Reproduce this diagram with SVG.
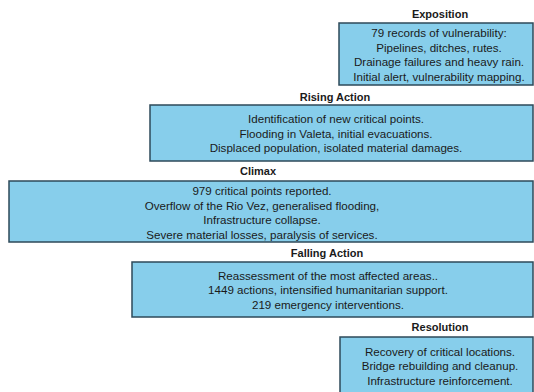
<svg xmlns="http://www.w3.org/2000/svg" width="534" height="392" viewBox="0 0 534 392">
<style>
.box{fill:#87CEEB;stroke:#2E4A5A;stroke-width:1.5}
.t{font-family:"Liberation Sans",Arial,sans-serif;font-size:11.6px;fill:#1a1a1a;text-anchor:middle}
.h{font-family:"Liberation Sans",Arial,sans-serif;font-size:11px;font-weight:bold;fill:#1a1a1a;text-anchor:middle}
</style>
<rect width="534" height="392" fill="#ffffff"/>
<g id="connectors"/>
<g id="exposition">
<text class="h" x="440" y="17.5">Exposition</text>
<rect class="box" x="339" y="23" width="194" height="62"/>
<text class="t" x="439" y="37">79 records of vulnerability:</text>
<text class="t" x="439" y="51.5">Pipelines, ditches, rutes.</text>
<text class="t" x="439" y="66">Drainage failures and heavy rain.</text>
<text class="t" x="439" y="80.5">Initial alert, vulnerability mapping.</text>
</g>
<g id="rising-action">
<text class="h" x="335" y="101">Rising Action</text>
<rect class="box" x="150" y="105" width="383" height="56"/>
<text class="t" x="336" y="123">Identification of new critical points.</text>
<text class="t" x="336" y="137.5">Flooding in Valeta, initial evacuations.</text>
<text class="t" x="336" y="152">Displaced population, isolated material damages.</text>
</g>
<g id="climax">
<text class="h" x="258" y="175">Climax</text>
<rect class="box" x="9" y="181" width="524" height="61"/>
<text class="t" x="262" y="195">979 critical points reported.</text>
<text class="t" x="262" y="209.7">Overflow of the Rio Vez, generalised flooding,</text>
<text class="t" x="262" y="224.4">Infrastructure collapse.</text>
<text class="t" x="262" y="239">Severe material losses, paralysis of services.</text>
</g>
<g id="falling-action">
<text class="h" x="327" y="257">Falling Action</text>
<rect class="box" x="132" y="262" width="401" height="55"/>
<text class="t" x="328" y="279.5">Reassessment of the most affected areas..</text>
<text class="t" x="328" y="294">1449 actions, intensified humanitarian support.</text>
<text class="t" x="328" y="308.5">219 emergency interventions.</text>
</g>
<g id="resolution">
<text class="h" x="440" y="331">Resolution</text>
<rect class="box" x="340" y="337" width="193" height="60"/>
<text class="t" x="440" y="355.5">Recovery of critical locations.</text>
<text class="t" x="440" y="370">Bridge rebuilding and cleanup.</text>
<text class="t" x="440" y="384.5">Infrastructure reinforcement.</text>
</g>
</svg>
